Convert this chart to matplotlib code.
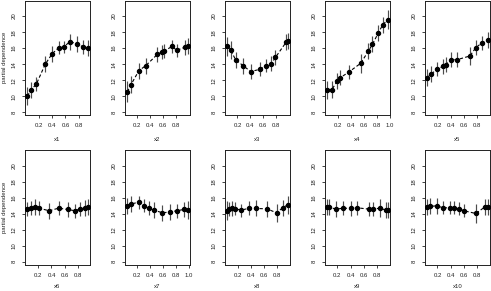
import numpy as np
import matplotlib
matplotlib.use('Agg')
import matplotlib.pyplot as plt

plt.rcParams['font.family'] = ['Liberation Sans', 'DejaVu Sans']

# partial dependence estimates, one set per variable
x1_pos = [0.025, 0.076, 0.16, 0.294, 0.40, 0.50, 0.573, 0.667, 0.777, 0.87, 0.936]
x1_pd = [10.0, 10.75, 11.5, 13.98, 15.3, 16.06, 16.14, 16.8, 16.55, 16.14, 15.98]
x1_err = [1.1, 1.0, 0.9, 1.0, 1.0, 0.85, 0.8, 1.0, 1.0, 0.9, 1.0]

x2_pos = [0.059, 0.114, 0.235, 0.34, 0.516, 0.585, 0.62, 0.74, 0.81, 0.93, 0.976]
x2_pd = [10.54, 11.45, 13.2, 13.82, 15.23, 15.52, 15.64, 16.22, 15.73, 16.1, 16.22]
x2_err = [1.3, 1.1, 1.0, 1.0, 0.9, 0.9, 0.9, 0.8, 0.8, 0.9, 1.0]

x3_pos = [0.045, 0.095, 0.17, 0.286, 0.406, 0.546, 0.637, 0.723, 0.787, 0.95, 0.974]
x3_pd = [16.22, 15.8, 14.56, 13.82, 13.07, 13.36, 13.82, 14.07, 14.85, 16.72, 16.9]
x3_err = [1.2, 1.1, 1.0, 1.0, 0.9, 0.9, 0.8, 0.9, 0.9, 1.0, 1.0]

x4_pos = [0.041, 0.11, 0.19, 0.24, 0.365, 0.55, 0.67, 0.73, 0.82, 0.889, 0.963]
x4_pd = [10.75, 10.83, 11.87, 12.32, 12.99, 14.1, 15.64, 16.47, 17.88, 18.92, 19.54]
x4_err = [1.1, 1.1, 1.0, 0.9, 0.9, 1.2, 1.0, 1.0, 1.0, 1.0, 1.2]

x5_pos = [0.046, 0.095, 0.2, 0.28, 0.33, 0.40, 0.5, 0.695, 0.785, 0.875, 0.965]
x5_pd = [12.32, 12.74, 13.36, 13.73, 13.94, 14.56, 14.56, 15.02, 16.06, 16.64, 17.05]
x5_err = [1.1, 1.0, 0.9, 0.9, 0.9, 0.9, 0.9, 1.1, 0.9, 0.9, 1.0]

x6_pos = [0.036, 0.086, 0.145, 0.21, 0.364, 0.51, 0.643, 0.757, 0.83, 0.906, 0.946]
x6_pd = [14.6, 14.69, 14.77, 14.69, 14.36, 14.69, 14.52, 14.36, 14.6, 14.69, 14.85]
x6_err = [0.9, 0.9, 1.0, 0.9, 1.0, 0.9, 0.9, 0.9, 0.9, 1.0, 1.0]

x7_pos = [0.054, 0.11, 0.224, 0.305, 0.38, 0.456, 0.59, 0.70, 0.81, 0.915, 0.975]
x7_pd = [14.98, 15.19, 15.44, 14.98, 14.73, 14.44, 14.11, 14.2, 14.36, 14.52, 14.44]
x7_err = [1.0, 1.0, 0.8, 0.8, 0.9, 1.0, 1.0, 1.0, 0.9, 0.9, 1.1]

x8_pos = [0.045, 0.075, 0.116, 0.165, 0.26, 0.38, 0.48, 0.652, 0.798, 0.893, 0.968]
x8_pd = [14.36, 14.6, 14.65, 14.6, 14.44, 14.69, 14.65, 14.6, 14.11, 14.73, 15.1]
x8_err = [1.2, 0.9, 0.9, 0.8, 0.8, 0.9, 1.0, 1.0, 1.1, 1.0, 1.1]

x9_pos = [0.05, 0.075, 0.185, 0.285, 0.41, 0.5, 0.68, 0.735, 0.84, 0.93, 0.955]
x9_pd = [14.85, 14.8, 14.56, 14.69, 14.65, 14.73, 14.56, 14.56, 14.69, 14.44, 14.4]
x9_err = [1.0, 1.0, 1.0, 0.9, 0.9, 0.9, 0.9, 0.9, 1.1, 1.0, 1.0]

x10_pos = [0.046, 0.08, 0.19, 0.285, 0.386, 0.455, 0.53, 0.605, 0.785, 0.926, 0.965]
x10_pd = [14.85, 14.9, 14.98, 14.73, 14.73, 14.73, 14.6, 14.36, 14.02, 14.85, 14.85]
x10_err = [1.0, 1.0, 1.0, 0.8, 0.8, 0.8, 0.8, 0.8, 1.2, 1.0, 1.0]

var_names = ['x1', 'x2', 'x3', 'x4', 'x5', 'x6', 'x7', 'x8', 'x9', 'x10']
positions = [x1_pos, x2_pos, x3_pos, x4_pos, x5_pos, x6_pos, x7_pos, x8_pos, x9_pos, x10_pos]
estimates = [x1_pd, x2_pd, x3_pd, x4_pd, x5_pd, x6_pd, x7_pd, x8_pd, x9_pd, x10_pd]
errors = [x1_err, x2_err, x3_err, x4_err, x5_err, x6_err, x7_err, x8_err, x9_err, x10_err]
y_ticks = [8, 10, 12, 14, 16, 18, 20]

W, H = 491, 291
fig = plt.figure(figsize=(W / 100, H / 100), dpi=100)

# panel boxes in pixels (left, top) - R style 2x5 grid
col_left = [25, 125, 225, 325, 425]
row_top = [0.5, 150]
box_w, box_h = 65.0, 114.5
fsize = 4.3

for i, name in enumerate(var_names):
    r, c = divmod(i, 5)
    ax = fig.add_axes([col_left[c] / W, 1 - (row_top[r] + box_h) / H, box_w / W, box_h / H])
    xs = np.array(positions[i])
    ys = np.array(estimates[i])
    es = np.array(errors[i])

    ax.vlines(xs, ys - es, ys + es, color='#4d4d4d', linewidth=0.85, zorder=2)
    ax.plot(xs, ys, color='black', linestyle=(0, (3, 2)), linewidth=0.8, zorder=3)
    ax.plot(xs, ys, 'o', color='black', markersize=2.9, zorder=4)

    # R default 4% axis expansion
    span = xs.max() - xs.min()
    ax.set_xlim(xs.min() - 0.04 * span, xs.max() + 0.04 * span)
    ax.set_ylim(7.65, 21.95)
    xt = [0.2, 0.4, 0.6, 0.8, 1.0] if name in ('x4', 'x7') else [0.2, 0.4, 0.6, 0.8]
    ax.set_xticks(xt)
    ax.set_xticklabels([f'{t:.1f}' for t in xt])
    ax.set_yticks(y_ticks)
    ax.set_yticklabels([str(t) for t in y_ticks], rotation=90, va='center')
    ax.tick_params(direction='out', length=2.2, width=0.6, labelsize=fsize, pad=3.6,
                   colors='#222222')
    for s in ax.spines.values():
        s.set_linewidth(0.7)
        s.set_color('#222222')
    ax.set_xlabel(name, fontsize=fsize, labelpad=6.5 if r == 0 else 5.0, color='#222222')
    if c == 0:
        ax.set_ylabel('partial dependence', fontsize=fsize, labelpad=3.5, color='#222222')

fig.savefig('out.png', dpi=100)
